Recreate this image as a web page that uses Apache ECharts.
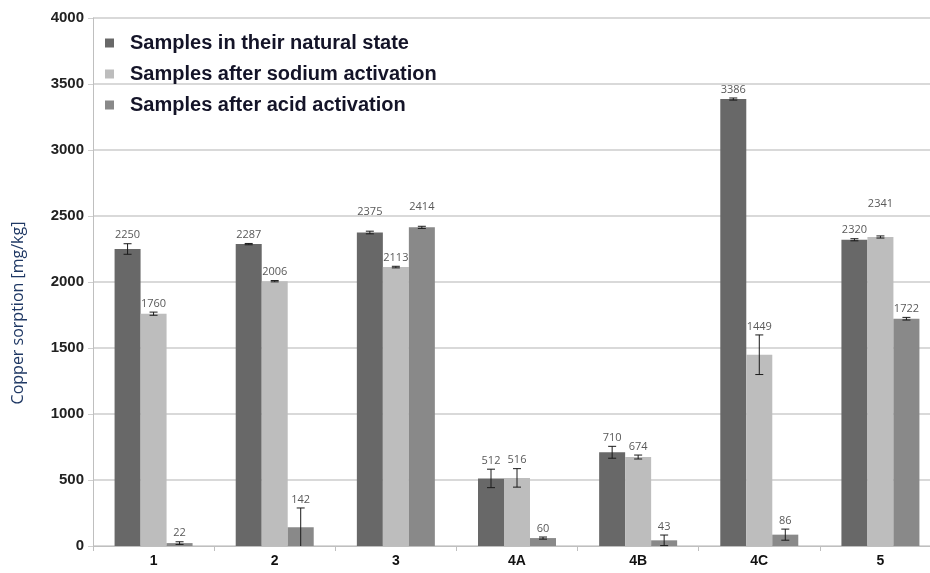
<!DOCTYPE html>
<html>
<head>
<meta charset="utf-8">
<script src="https://cdn.jsdelivr.net/npm/echarts@6/dist/echarts.min.js"></script>
<style>
  html, body { margin: 0; padding: 0; background: #fff; overflow: hidden; }
  /* the original plot runs slightly past the right edge of the picture */
  #chart { width: 941px; height: 573px; }
</style>
</head>
<body>
<div id="chart"></div>
<script>
// categories and series
var categories = ['1', '2', '3', '4A', '4B', '4C', '5'];
var seriesNames = ['Samples in their natural state', 'Samples after sodium activation', 'Samples after acid activation'];

var natural = [2250, 2287, 2375, 512, 710, 3386, 2320];
var naturalErr = [40, 5, 10, 70, 45, 8, 8];

var sodium = [1760, 2006, 2113, 516, 674, 1449, 2341];
var sodiumErr = [12, 5, 6, 70, 15, 150, 8];

var acid = [22, 142, 2414, 60, 43, 86, 1722];
var acidErr = [10, 146, 8, 8, 40, 42, 10];

var yTicks = { min: 0, max: 4000, interval: 500 };

// styling
var barColors = ['#686868', '#bdbdbd', '#898989'];
var barW = 26;
// extra lift (px) of some value labels, as placed in the original
var labelLift = { '0:2': 11, '2:2': 11, '1:6': 24 };

function errorSeries(idx, values, errors) {
	var rows = [];
	for (var i = 0; i < values.length; i++) {
		rows.push([i, values[i], errors[i]]);
	}
	return {
		type: 'custom',
		name: 'err' + idx,
		z: 10,
		silent: true,
		data: rows,
		renderItem: function (params, api) {
			var ci = api.value(0), v = api.value(1), e = api.value(2);
			var c = api.coord([ci, v]);
			var x = c[0] + (idx - 1) * barW;
			var top = api.coord([ci, v + e])[1];
			var low = v - e;
			var bot = api.coord([ci, Math.max(0, low)])[1];
			var lift = labelLift[idx + ':' + ci] || 0;
			var st = { stroke: '#1a1a1a', lineWidth: 1 };
			var kids = [
				{ type: 'line', shape: { x1: x, y1: top, x2: x, y2: bot }, style: st },
				{ type: 'line', shape: { x1: x - 4, y1: top, x2: x + 4, y2: top }, style: st }
			];
			if (low > 0) {
				kids.push({ type: 'line', shape: { x1: x - 4, y1: bot, x2: x + 4, y2: bot }, style: st });
			}
			kids.push({
				type: 'text',
				style: {
					text: String(v),
					x: x,
					y: top - 3 - lift,
					align: 'center',
					verticalAlign: 'bottom',
					fill: '#595959',
					font: '11px "Open Sans", sans-serif'
				}
			});
			return { type: 'group', children: kids };
		}
	};
}

var chart = echarts.init(document.getElementById('chart'));

var option = {
	animation: false,
	color: barColors,
	grid: {
		left: 93,
		top: 18,
		right: 0,
		bottom: 27,
		containLabel: false
	},
	legend: {
		data: seriesNames,
		orient: 'vertical',
		left: 100,
		top: 28,
		itemGap: 11,
		itemWidth: 9,
		itemHeight: 9,
		icon: 'rect',
		textStyle: {
			fontFamily: '"Liberation Sans", Arial, sans-serif',
			fontWeight: 'bold',
			fontSize: 20,
			color: '#141428',
			padding: [0, 0, 0, 11]
		}
	},
	xAxis: {
		type: 'category',
		data: categories,
		axisLine: { lineStyle: { color: '#bfbfbf', width: 1 } },
		axisTick: { show: true, length: 5, lineStyle: { color: '#bfbfbf' } },
		axisLabel: {
			margin: 8,
			color: '#111',
			fontFamily: '"Liberation Sans", Arial, sans-serif',
			fontWeight: 'bold',
			fontSize: 14
		}
	},
	yAxis: {
		type: 'value',
		min: yTicks.min,
		max: yTicks.max,
		interval: yTicks.interval,
		axisLine: { show: true, lineStyle: { color: '#bfbfbf', width: 1 } },
		axisTick: { show: true, length: 5, lineStyle: { color: '#cfcfcf' } },
		splitLine: { lineStyle: { color: '#d9d9d9', width: 2 } },
		axisLabel: {
			margin: 9,
			color: '#222',
			fontFamily: '"Liberation Sans", Arial, sans-serif',
			fontWeight: 'bold',
			fontSize: 15,
			formatter: function (v) { return String(v); }
		}
	},
	graphic: [{
		type: 'text',
		x: 18,
		y: 313,
		rotation: Math.PI / 2,
		style: {
			text: 'Copper sorption [mg/kg]',
			align: 'center',
			verticalAlign: 'middle',
			fill: '#1f3864',
			font: '16px "Open Sans", sans-serif'
		}
	}],
	series: [
		{ type: 'bar', name: seriesNames[0], data: natural, barWidth: barW, barGap: '0%' },
		{ type: 'bar', name: seriesNames[1], data: sodium, barWidth: barW, barGap: '0%' },
		{ type: 'bar', name: seriesNames[2], data: acid, barWidth: barW, barGap: '0%' },
		errorSeries(0, natural, naturalErr),
		errorSeries(1, sodium, sodiumErr),
		errorSeries(2, acid, acidErr)
	]
};

chart.setOption(option, true);
window.addEventListener('resize', function () {
	chart.resize();
});
</script>
</body>
</html>
